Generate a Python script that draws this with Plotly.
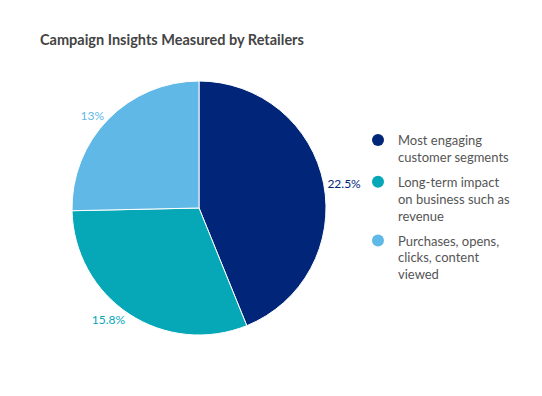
import plotly.graph_objects as go

categories = ["Most engaging<br>customer segments",
              "Long-term impact<br>on business such as<br>revenue",
              "Purchases, opens,<br>clicks, content<br>viewed"]
values = [22.5, 15.8, 13]
colors = ["#012579", "#06a7b6", "#5fb8e6"]

W, H = 542, 396
cx, cy, r = 191, 200, 127

fig = go.Figure()
fig.add_trace(go.Pie(
    labels=categories, values=values, sort=False, direction="clockwise", rotation=0,
    marker=dict(colors=colors, line=dict(color="white", width=1)),
    texttemplate="%{value}%", textposition="outside",
    textfont=dict(color=colors, size=12, family="Lato"),
    showlegend=False, hoverinfo="label+value",
    domain=dict(x=[(cx - r) / W, (cx + r) / W], y=[(H - cy - r) / H, (H - cy + r) / H]),
))
for i, (c, col) in enumerate(zip(categories, colors)):
    fig.add_trace(go.Scatter(x=[None], y=[None], mode="markers", name=c, legendgroup=f"g{i}",
                             marker=dict(color=col, size=15, symbol="circle")))

fig.update_layout(
    width=W, height=H, margin=dict(l=0, r=0, t=0, b=0),
    paper_bgcolor="white", plot_bgcolor="white",
    font=dict(family="Lato", color="#555555"),
    title=dict(text="<b>Campaign Insights Measured by Retailers</b>", x=32 / W, xanchor="left",
               y=1 - 32 / H, yanchor="middle", pad=dict(l=0, t=0, b=0, r=0),
               font=dict(size=14.5, color="#444444")),
    xaxis=dict(visible=False), yaxis=dict(visible=False),
    legend=dict(x=350 / W, y=1 - 117 / H, xanchor="left", yanchor="top", valign="top",
                bgcolor="rgba(0,0,0,0)",
                font=dict(size=13, color="#555555"), tracegroupgap=5, itemsizing="constant"),
)
fig.write_html("out.html")
